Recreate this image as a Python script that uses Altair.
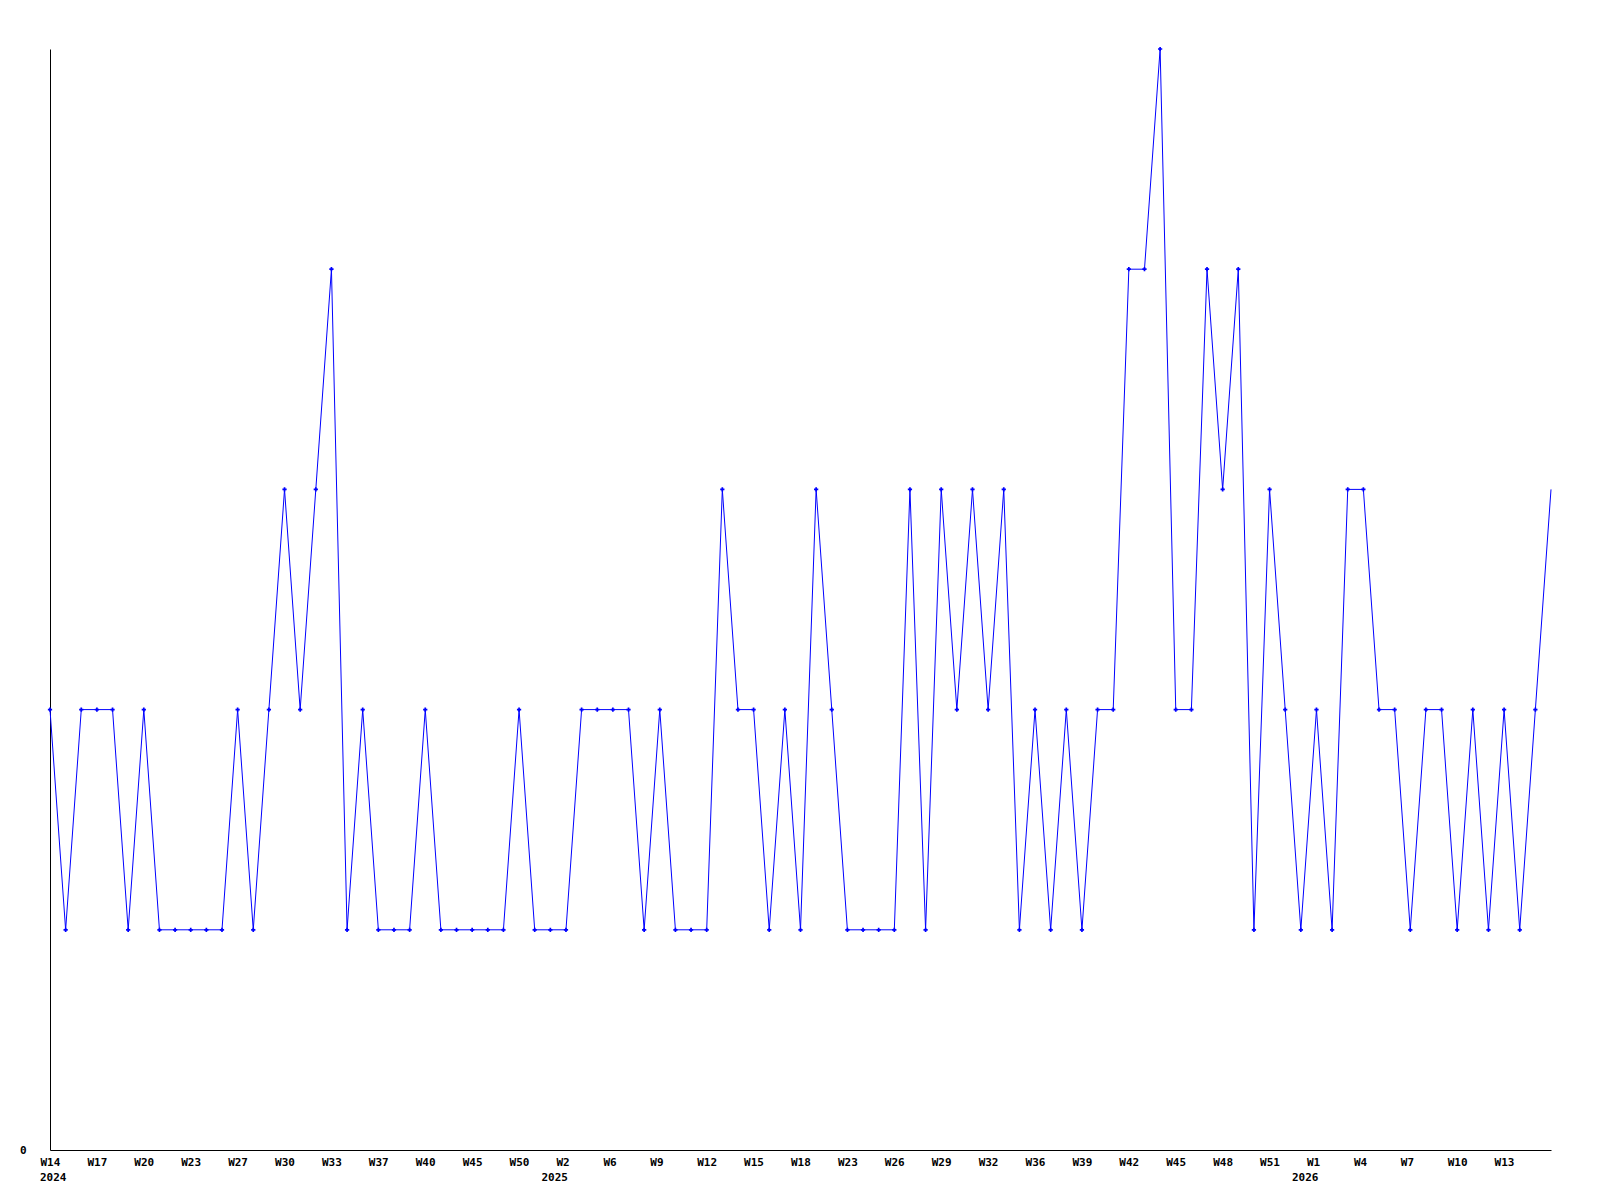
import altair as alt
import pandas as pd

# weekly values (index 0 = W14 2024)
values = [
    2, 1, 2, 2, 2, 1, 2, 1, 1, 1, 1, 1, 2, 1, 2, 3, 2, 3, 4, 1,
    2, 1, 1, 1, 2, 1, 1, 1, 1, 1, 2, 1, 1, 1, 2, 2, 2, 2, 1, 2,
    1, 1, 1, 3, 2, 2, 1, 2, 1, 3, 2, 1, 1, 1, 1, 3, 1, 3, 2, 3,
    2, 3, 1, 2, 1, 2, 1, 2, 2, 4, 4, 5, 2, 2, 4, 3, 4, 1, 3, 2,
    1, 2, 1, 3, 3, 2, 2, 1, 2, 2, 1, 2, 1, 2, 1, 2, 3,
]

# x tick labels (one every 3 points)
week_ticks = [
    "W14", "W17", "W20", "W23", "W27", "W30", "W33", "W37", "W40", "W45",
    "W50", "W2", "W6", "W9", "W12", "W15", "W18", "W23", "W26", "W29",
    "W32", "W36", "W39", "W42", "W45", "W48", "W51", "W1", "W4", "W7",
    "W10", "W13",
]
tick_step = 3
tick_idx = [i * tick_step for i in range(len(week_ticks))]

year_labels = ["2024", "2025", "2026"]
year_idx = [0, 33, 81]

FONT = "DejaVu Sans Mono"
W, H = 1501, 1101
n = len(values)

df = pd.DataFrame({"idx": list(range(n)), "value": values})
df_years = pd.DataFrame({"idx": year_idx, "year": year_labels})

label_lookup = "{" + ",".join(f"'{i}':'{t}'" for i, t in zip(tick_idx, week_ticks)) + "}"
label_expr = f"{label_lookup}[''+datum.value]"

xscale = alt.Scale(domain=[0, n - 1], nice=False, zero=False)
xaxis = alt.Axis(
    values=tick_idx, labelExpr=label_expr, title=None, ticks=False, grid=False,
    domainColor="black", domainWidth=1, labelFont=FONT, labelFontSize=11,
    labelFontWeight="bold", labelColor="black", labelAlign="left",
    labelOffset=-10, labelPadding=6, labelOverlap=False, labelFlush=False,
    labelBound=False,
)
yaxis = alt.Axis(
    values=[0], format="d", title=None, ticks=False, grid=False, domainColor="black",
    domainWidth=1, labelFont=FONT, labelFontSize=11, labelFontWeight="bold",
    labelColor="black", labelPadding=24, labelBaseline="middle",
)

base = alt.Chart(df)
line = base.mark_line(color="#0000ff", strokeWidth=1, clip=False).encode(
    x=alt.X("idx:Q", scale=xscale, axis=xaxis),
    y=alt.Y("value:Q", scale=alt.Scale(domain=[0, 5], nice=False, zero=True), axis=yaxis),
)
pts = base.transform_filter(alt.datum.idx < n - 1).mark_point(
    shape="cross", filled=True, color="#0000ff", size=18, opacity=1
).encode(x="idx:Q", y="value:Q")

year_first = alt.Chart(df_years).transform_filter(alt.datum.idx == 0).mark_text(
    font=FONT, fontSize=11, fontWeight="bold", color="black", align="left",
    baseline="top", dx=-10
).encode(x="idx:Q", y=alt.value(H + 22), text="year:N")
year_rest = alt.Chart(df_years).transform_filter(alt.datum.idx > 0).mark_text(
    font=FONT, fontSize=11, fontWeight="bold", color="black", align="right",
    baseline="top", dx=2
).encode(x="idx:Q", y=alt.value(H + 22), text="year:N")

chart = alt.layer(line, pts, year_first, year_rest).properties(
    width=W, height=H, autosize="none",
    padding={"left": 42, "top": 41, "right": 40, "bottom": 50},
    background="white",
).configure_view(stroke=None)

chart.save("out.html", embed_options={"renderer": "svg", "actions": False})
